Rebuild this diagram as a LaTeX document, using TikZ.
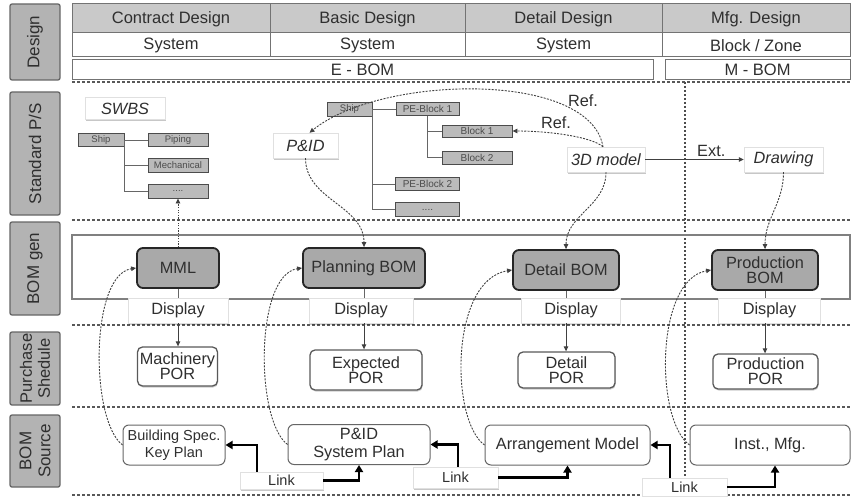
\documentclass[tikz,border=0pt]{standalone}
\usepackage{fontspec}
\setmainfont{Liberation Sans}
\usetikzlibrary{arrows.meta,shadows}

\definecolor{ink}{HTML}{2F2F2F}
\definecolor{lblgray}{HTML}{B3B3B3}
\definecolor{hdrgray}{HTML}{C9C9C9}
\definecolor{bomgray}{HTML}{A9A9A9}
\definecolor{treegray}{HTML}{BBBBBB}

\newcommand\fsz[2]{\fontsize{#1}{#2}\selectfont}

\begin{document}
\begin{tikzpicture}[x=1pt,y=-1pt,
  font=\fsz{16.3}{18},
  every node/.style={text=ink},
  sidelbl/.style={draw=black!60, line width=1.3pt, fill=lblgray, rounded corners=2pt,
    rotate=90, minimum height=50pt, inner sep=0pt, align=center, font=\fsz{17}{19}},
  hdrtext/.style={font=\fsz{16.5}{18}, inner sep=0pt},
  tblline/.style={draw=black!55, line width=1pt},
  cellbox/.style={draw=black!55, line width=1pt, fill=white, inner sep=0pt,
    minimum height=20pt, font=\fsz{16.5}{18}},
  softbox/.style={draw=black!12, fill=white, inner sep=0pt,
    drop shadow={shadow xshift=0.8pt, shadow yshift=-1.8pt, opacity=0.22, fill=black}},
  treebox/.style={draw=black!70, fill=treegray, line width=0.9pt, inner sep=0pt,
    font=\fsz{9.5}{10}, text=black!70},
  treeline/.style={draw=black!60, line width=0.9pt},
  bombox/.style={draw=black!85, fill=bomgray, line width=1.8pt, rounded corners=6pt,
    inner sep=0pt, align=center, minimum height=40pt},
  dispbox/.style={softbox, minimum height=25pt},
  porbox/.style={draw=black!65, fill=white, line width=1.3pt, rounded corners=5pt,
    inner sep=0pt, align=center, font=\fsz{16.3}{15},
    drop shadow={shadow xshift=0.6pt, shadow yshift=-1.5pt, opacity=0.2, fill=black}},
  srcbox/.style={draw=black!60, fill=white, line width=1pt, rounded corners=6pt,
    inner sep=0pt, align=center, minimum height=40pt},
  linkbox/.style={softbox, font=\fsz{14.5}{16}},
  bandline/.style={draw=black!50, line width=1.2pt},
  sep/.style={draw=black!65, line width=1.3pt, dash pattern=on 3pt off 2pt},
  divider/.style={draw=black!70, line width=1.2pt, dash pattern=on 2pt off 2pt},
  thinline/.style={draw=black!60, line width=0.9pt},
  dasharrow/.style={draw=black!75, line width=0.9pt, dash pattern=on 2pt off 1.3pt,
    -{Triangle[length=5pt,width=4.5pt]}},
  dotarrow/.style={draw=black!75, line width=0.9pt, dash pattern=on 1.2pt off 1.4pt,
    -{Triangle[length=5pt,width=4.5pt]}},
  solidarrow/.style={draw=black!75, line width=1pt, -{Triangle[length=5pt,width=4.5pt]}},
  linkarrow/.style={draw=black, line width=2.6pt, -{Triangle[length=7pt,width=8pt]}},
]
\useasboundingbox (0,0) rectangle (853,497);

% lane separators and the design/manufacturing divider
\foreach \yy in {82,220,325,407,495} \draw[sep] (72,\yy) -- (850,\yy);
\draw[divider] (685,82) -- (685,495);

% lane titles
\node[sidelbl, minimum width=76pt]  (lD) at (35,42)    {Design};
\node[sidelbl, minimum width=123pt] (lS) at (35,153.5) {Standard P/S};
\node[sidelbl, minimum width=93pt]  (lG) at (35,268.5) {BOM gen};
\node[sidelbl, minimum width=73pt, font=\fsz{16.5}{18}] (lP) at (35,368.5) {Purchase\\Shedule};
\node[sidelbl, minimum width=72pt]  (lB) at (35,451)   {BOM\\Source};

% design stage table
\fill[hdrgray] (72,4) rectangle (850,33);
\draw[tblline] (72,4) rectangle (850,57);
\draw[tblline] (72,33) -- (850,33);
\foreach \xx in {270,465,662} \draw[tblline] (\xx,4) -- (\xx,57);
\node[hdrtext] (hdC) at (171,19)   {Contract Design};
\node[hdrtext] (hdB) at (367.5,19) {Basic Design};
\node[hdrtext] (hdD) at (563.5,19) {Detail Design};
\node[hdrtext] (hdM) at (756,19)   {Mfg. Design};
\node[hdrtext] (syC) at (171,45.5)   {System};
\node[hdrtext] (syB) at (367.5,45.5) {System};
\node[hdrtext] (syD) at (563.5,45.5) {System};
\node[hdrtext] (syM) at (756,45.5)   {Block / Zone};
\node[cellbox, minimum width=581pt] (ebom) at (362.5,70) {E - BOM};
\node[cellbox, minimum width=185pt] (mbom) at (757.5,70) {M - BOM};

% standard product structures
\node[softbox, minimum width=80pt, minimum height=22pt, font=\itshape\fsz{16.3}{18}] (swbs) at (125,108.5) {SWBS};
\node[treebox, minimum width=46pt, minimum height=13pt] (sShip)   at (101,140)   {Ship};
\node[treebox, minimum width=60pt, minimum height=13pt] (sPiping) at (178,140)   {Piping};
\node[treebox, minimum width=60pt, minimum height=14pt] (sMech)   at (178,165)   {Mechanical};
\node[treebox, minimum width=60pt, minimum height=14pt] (sDots)   at (178,191)   {....};
\draw[treeline] (sShip.east) -- (sPiping.west);
\draw[treeline] (sShip.east) |- (sMech.west);
\draw[treeline] (sShip.east) |- (sDots.west);

\node[softbox, minimum width=65pt, minimum height=25pt, font=\itshape\fsz{16.3}{18}] (pid) at (305.5,145.5) {P\&ID};
\node[treebox, minimum width=45pt, minimum height=14pt] (bShip) at (349.5,109) {Ship};
\node[treebox, minimum width=63pt, minimum height=13pt, font=\fsz{10}{10}] (bPE1) at (427.5,109) {PE-Block 1};
\node[treebox, minimum width=70pt, minimum height=12pt, font=\fsz{10}{10}] (bB1)  at (477,131) {Block 1};
\node[treebox, minimum width=70pt, minimum height=13pt, font=\fsz{10}{10}] (bB2)  at (477,157.5) {Block 2};
\node[treebox, minimum width=64pt, minimum height=13pt, font=\fsz{10}{10}] (bPE2) at (427.5,184) {PE-Block 2};
\node[treebox, minimum width=64pt, minimum height=14pt, font=\fsz{10}{10}] (bDots) at (427.5,209.5) {....};
\draw[treeline] (bShip.east) -- (bPE1.west);
\draw[treeline] (bShip.east) |- (bPE2.west);
\draw[treeline] (bShip.east) |- (bDots.west);
\draw[treeline] (bPE1.south) |- (bB1.west);
\draw[treeline] (bPE1.south) |- (bB2.west);

\node[softbox, minimum width=78pt, minimum height=25pt, font=\itshape\fsz{16.3}{18}] (m3d) at (606,159.5) {3D model};
\node[softbox, minimum width=79pt, minimum height=25pt, font=\itshape\fsz{16.3}{18}] (drw) at (783.5,159.5) {Drawing};
\draw[solidarrow] (m3d.east) -- node[pos=0.67, above, inner sep=2pt] (extlbl) {Ext.} (drw.west);

\draw[dasharrow] ([xshift=-3pt]m3d.north) .. controls (590,70) and (380,75) .. ([xshift=4pt]pid.north);
\node (ref1) at (583,101) {Ref.};
\draw[dasharrow] ([xshift=-3pt]m3d.north) .. controls (592,137) and (550,131) .. (bB1.east);
\node (ref2) at (556,123) {Ref.};

% BOM generation band
\draw[bandline] (72,235) rectangle (850,299);
\node[bombox, minimum width=82pt]  (mml)   at (178,268) {MML};
\node[bombox, minimum width=122pt] (pbom)  at (364,268) {Planning BOM};
\node[bombox, minimum width=106pt] (dbom)  at (566,270) {Detail BOM};
\node[bombox, minimum width=106pt, font=\fsz{16.3}{15}] (prbom) at (765,270) {Production\\BOM};

\node[dispbox, minimum width=100pt] (d1) at (178,310.5)   {Display};
\node[dispbox, minimum width=104pt] (d2) at (361,310.5)   {Display};
\node[dispbox, minimum width=99pt]  (d3) at (571,310.5)   {Display};
\node[dispbox, minimum width=102pt] (d4) at (769.5,310.5) {Display};

% purchase orders
\node[porbox, minimum width=80pt,  minimum height=39pt] (por1) at (177.5,366.5) {Machinery\\POR};
\node[porbox, minimum width=112pt, minimum height=40pt] (por2) at (366,370)     {Expected\\POR};
\node[porbox, minimum width=97pt,  minimum height=36pt] (por3) at (566.5,370)   {Detail\\POR};
\node[porbox, minimum width=105pt, minimum height=35pt] (por4) at (765.5,371.5) {Production\\POR};

\draw[thinline] (mml.south) -- (mml.south |- d1.north);
\draw[solidarrow] (mml.south |- d1.south) -- (mml.south |- por1.north);
\draw[thinline] (pbom.south) -- (pbom.south |- d2.north);
\draw[solidarrow] (pbom.south |- d2.south) -- (pbom.south |- por2.north);
\draw[thinline] (dbom.south) -- (dbom.south |- d3.north);
\draw[solidarrow] (dbom.south |- d3.south) -- (dbom.south |- por3.north);
\draw[thinline] (prbom.south) -- (prbom.south |- d4.north);
\draw[solidarrow] (prbom.south |- d4.south) -- (prbom.south |- por4.north);

% standard structures feeding the BOMs
\draw[dotarrow] (mml.north) -- (sDots.south);
\draw[dasharrow] (pid.south) to[out=-90,in=90] (pbom.north);
\draw[dasharrow] (m3d.south) to[out=-90,in=90] (dbom.north);
\draw[dasharrow] (drw.south) to[out=-90,in=90] (prbom.north);

% BOM sources
\node[srcbox, minimum width=102pt, font=\fsz{14.5}{17}] (bsp) at (174,445) {Building Spec.\\Key Plan};
\node[srcbox, minimum width=142pt, font=\fsz{16.3}{17.5}] (pidsp) at (359,444.5) {P\&ID\\System Plan};
\node[srcbox, minimum width=165pt] (arr) at (567.5,445) {Arrangement Model};
\node[srcbox, minimum width=160pt] (inst) at (770,445) {Inst., Mfg.};

\draw[dasharrow] (bsp.west) .. controls (90,420) and (90,275) .. (mml.west);
\draw[dasharrow] (pidsp.west) .. controls (255,420) and (255,275) .. (pbom.west);
\draw[dasharrow] (arr.west) .. controls (450,420) and (450,280) .. (dbom.west);
\draw[dasharrow] (inst.west) .. controls (655,420) and (655,280) .. (prbom.west);

% links between sources
\node[linkbox, minimum width=83pt, minimum height=17pt] (lk1) at (281.5,480.5) {Link};
\node[linkbox, minimum width=85pt, minimum height=21pt] (lk2) at (455.5,477.5) {Link};
\node[linkbox, minimum width=85pt, minimum height=18pt] (lk3) at (684.5,487)   {Link};

\draw[linkarrow] ([xshift=-24.5pt]lk1.north) |- (bsp.east);
\draw[linkarrow] (lk1.east) -| (pidsp.south);
\draw[linkarrow] ([xshift=2.5pt]lk2.north) |- (pidsp.east);
\draw[linkarrow] (lk2.east) -| (arr.south);
\draw[linkarrow] ([xshift=-14.5pt]lk3.north) |- (arr.east);
\draw[linkarrow] (lk3.east) -| ([xshift=5pt]inst.south);
\end{tikzpicture}
\end{document}
